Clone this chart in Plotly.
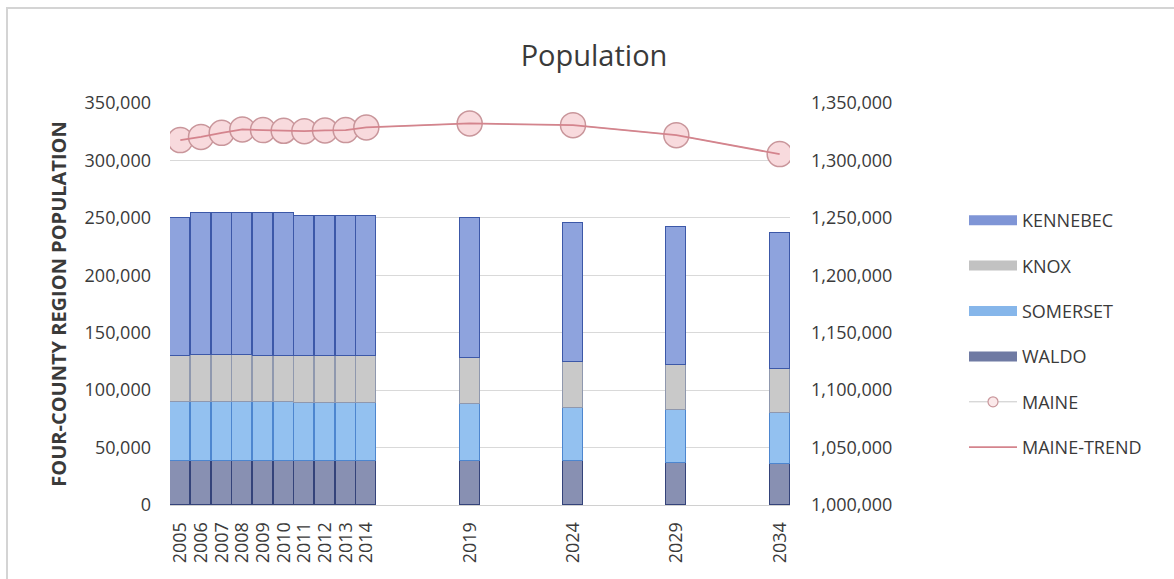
import plotly.graph_objects as go

# Four-county region population by county, with statewide Maine totals
years = [2005, 2006, 2007, 2008, 2009, 2010, 2011, 2012, 2013, 2014, 2019, 2024, 2029, 2034]
waldo = [38500, 38700, 38600, 38500, 38500, 38700, 38600, 38500, 38500, 38600, 38700, 37900, 37000, 35500]
somerset = [51300, 51100, 51000, 50900, 50800, 50600, 50500, 50400, 50300, 50200, 49100, 46900, 45500, 44900]
knox = [40300, 40700, 40900, 40900, 40800, 40700, 40700, 40700, 40600, 40600, 39800, 39300, 39000, 37600]
kennebec = [119900, 123400, 123400, 123600, 123800, 123900, 122000, 122200, 122400, 122400, 121900, 121100, 120700, 118700]
maine = [1317700, 1320500, 1324000, 1327000, 1326400, 1325800, 1325500, 1326100, 1326400, 1328700,
         1332200, 1330700, 1322000, 1305500]
maine_trend = [1317700, 1320500, 1324000, 1327000, 1326400, 1325800, 1325500, 1326100, 1326400, 1328700,
               1332200, 1330700, 1322000, 1305500]
year_labels = [str(y) for y in years]

left_ticks = [0, 50000, 100000, 150000, 200000, 250000, 300000, 350000]
right_ticks = [1000000, 1050000, 1100000, 1150000, 1200000, 1250000, 1300000, 1350000]

FONT = "Open Sans"
TXT = "#3a3a3a"
TICK_SIZE = 18

fig = go.Figure()

# county bars, stacked bottom-up
bar_specs = [
    ("WALDO", waldo, "#8890b2", "#34437a", "#6f7aa3", 4),
    ("SOMERSET", somerset, "#93c1f0", "#4d86cf", "#86b6ea", 3),
    ("KNOX", knox, "#c9c9c9", "#8f98ae", "#c2c2c2", 2),
    ("KENNEBEC", kennebec, "#8ea3dd", "#3c58a8", "#7f95d6", 1),
]
for name, vals, fill, edge, key, rank in bar_specs:
    fig.add_trace(go.Bar(
        x=years, y=vals, name=name, width=0.96, showlegend=False,
        marker=dict(color=fill, line=dict(color=edge, width=1.5)),
    ))
    # wide swatch for the legend
    fig.add_trace(go.Scatter(
        x=[None], y=[None], name=name, mode="lines",
        line=dict(color=key, width=12),
        legendrank=rank, legendgroup=name,
    ))

fig.add_trace(go.Scatter(
    x=years, y=maine, name="MAINE", yaxis="y2", mode="lines+markers", showlegend=False,
    line=dict(color="#c8c8c8", width=1),
    marker=dict(size=25, color="#f8dadd", line=dict(color="#c9969b", width=1.5)),
))
fig.add_trace(go.Scatter(
    x=[None], y=[None], name="MAINE", yaxis="y2", mode="lines+markers",
    line=dict(color="#c8c8c8", width=1),
    marker=dict(size=10, color="#fbe9ea", line=dict(color="#c9969b", width=1.2)),
    legendrank=5, legendgroup="MAINE",
))
fig.add_trace(go.Scatter(
    x=years, y=maine_trend, name="MAINE-TREND", yaxis="y2", mode="lines",
    line=dict(color="#d4848d", width=1.8),
    legendrank=6, legendgroup="MAINE-TREND",
))

fig.update_layout(
    width=1174, height=579,
    margin=dict(l=170, r=384, t=103, b=74),
    paper_bgcolor="white", plot_bgcolor="white",
    barmode="stack", bargap=0,
    font=dict(family=FONT, size=TICK_SIZE, color=TXT),
    title=dict(text="Population", x=594 / 1174, xanchor="center", y=1 - 56 / 579, yanchor="middle",
               font=dict(family=FONT, size=29, color=TXT)),
    xaxis=dict(
        range=[2004.5, 2034.5], tickmode="array", tickvals=years, ticktext=year_labels,
        tickangle=-90, showgrid=False, zeroline=False, showline=True, linecolor="#d0d0d0",
        ticks="", tickfont=dict(size=TICK_SIZE, color=TXT), ticklabelstandoff=9,
    ),
    yaxis=dict(
        range=[0, 350000], tickmode="array", tickvals=left_ticks, tickformat=",",
        showgrid=True, gridcolor="#d9d9d9", gridwidth=1, zeroline=False, ticks="",
        tickfont=dict(size=TICK_SIZE, color=TXT), ticklabelstandoff=18,
        title=dict(text="<b>FOUR-COUNTY REGION POPULATION</b>", font=dict(size=20, color=TXT), standoff=12),
    ),
    yaxis2=dict(
        range=[1000000, 1350000], overlaying="y", side="right", tickmode="array",
        tickvals=right_ticks, tickformat=",", showgrid=False, zeroline=False, ticks="",
        tickfont=dict(size=TICK_SIZE, color=TXT), ticklabelstandoff=20,
    ),
    legend=dict(
        x=(964 - 170) / 620, y=(505 - 202) / 402, xanchor="left", yanchor="top",
        traceorder="grouped", tracegroupgap=19, itemwidth=48,
        font=dict(size=18, color=TXT), bgcolor="rgba(0,0,0,0)",
    ),
    shapes=[dict(type="rect", xref="paper", yref="paper",
                 x0=(7 - 170) / 620, x1=(1190 - 170) / 620,
                 y0=(505 - 600) / 402, y1=(505 - 8) / 402,
                 line=dict(color="#d4d4d4", width=2), layer="below")],
)

fig.write_html("out.html")
